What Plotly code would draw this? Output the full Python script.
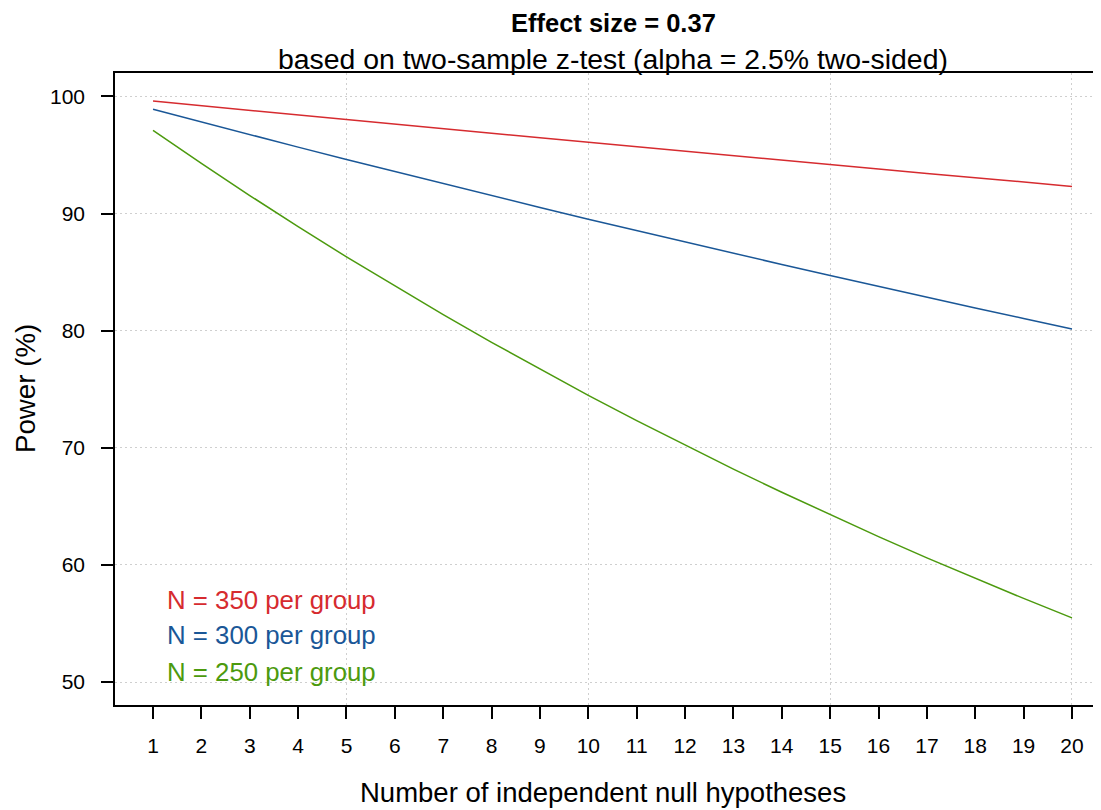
import plotly.graph_objects as go

# ---- data ----
n_hypotheses = list(range(1, 21))
power_n350 = [99.60, 99.20, 98.81, 98.41, 98.02, 97.63, 97.24, 96.85, 96.47, 96.08,
              95.70, 95.32, 94.94, 94.56, 94.18, 93.80, 93.43, 93.06, 92.69, 92.32]
power_n300 = [98.90, 97.81, 96.74, 95.67, 94.62, 93.58, 92.55, 91.53, 90.52, 89.52,
              88.54, 87.56, 86.60, 85.65, 84.71, 83.77, 82.85, 81.94, 81.04, 80.15]
power_n250 = [97.10, 94.28, 91.54, 88.88, 86.30, 83.80, 81.37, 79.00, 76.71, 74.48,
              72.32, 70.22, 68.18, 66.20, 64.28, 62.42, 60.60, 58.84, 57.14, 55.48]
series_labels = ["N = 350 per group", "N = 300 per group", "N = 250 per group"]
series_colors = ["#d62b2f", "#1a5797", "#4c9a0e"]
y_ticks = [50, 60, 70, 80, 90, 100]
x_grid = [5, 10, 15, 20]

FONT = "Liberation Sans, Arial, sans-serif"
GRID = "#cfcfcf"

fig = go.Figure()
for vals, lab, col in zip([power_n350, power_n300, power_n250], series_labels, series_colors):
    fig.add_trace(go.Scatter(x=n_hypotheses, y=vals, mode="lines", name=lab,
                             line=dict(color=col, width=1.5), showlegend=False))

fig.update_layout(
    width=1093, height=802,
    margin=dict(l=107, r=0, t=65, b=105),
    paper_bgcolor="white", plot_bgcolor="white",
    font=dict(family=FONT, color="black"),
)

fig.update_xaxes(
    range=[0.214, 20.6],
    tickmode="array", tickvals=n_hypotheses, ticktext=[str(v) for v in n_hypotheses],
    ticks="outside", ticklen=12, tickwidth=1.5, tickcolor="black",
    tickfont=dict(size=21, family=FONT, color="black"),
    ticklabelstandoff=9,
    showgrid=False, zeroline=False,
    showline=True, linecolor="black", linewidth=1.5, mirror=True,
    minor=dict(tickmode="array", tickvals=x_grid, showgrid=True,
               gridcolor=GRID, griddash="2px,3px", gridwidth=1.2, ticks=""),
)
fig.update_yaxes(
    range=[48.04, 102.0],
    tickmode="array", tickvals=y_ticks, ticktext=[str(v) for v in y_ticks],
    ticks="outside", ticklen=12, tickwidth=1.5, tickcolor="black",
    tickfont=dict(size=21, family=FONT, color="black"),
    ticklabelstandoff=12,
    showgrid=True, gridcolor=GRID, griddash="2px,3px", gridwidth=1.2,
    zeroline=False,
    showline=True, linecolor="black", linewidth=1.5, mirror=False,
)

annotations = [
    dict(text="<b>Effect size = 0.37</b>", xref="paper", yref="paper",
         x=0.5055, y=1, yshift=50, xanchor="center", yanchor="middle", showarrow=False,
         font=dict(size=25.5, family=FONT, color="black")),
    dict(text="based on two-sample z-test (alpha = 2.5% two-sided)", xref="paper", yref="paper",
         x=0.5055, y=1, yshift=14, xanchor="center", yanchor="middle", showarrow=False,
         font=dict(size=28.4, family=FONT, color="black")),
    dict(text="Number of independent null hypotheses", xref="paper", yref="paper",
         x=0.495, y=0, yshift=-87, xanchor="center", yanchor="middle", showarrow=False,
         font=dict(size=27.5, family=FONT, color="black")),
    dict(text="Power (%)", xref="paper", yref="paper", textangle=-90,
         x=0, xshift=-90, y=0.5, xanchor="center", yanchor="middle", showarrow=False,
         font=dict(size=27.7, family=FONT, color="black")),
]
label_y = [0.166, 0.110, 0.053]
for lab, col, yy in zip(series_labels, series_colors, label_y):
    annotations.append(dict(text=lab, xref="paper", yref="paper", x=0.0507, y=yy,
                            xanchor="left", yanchor="middle", showarrow=False,
                            font=dict(size=25.8, family=FONT, color=col)))
fig.update_layout(annotations=annotations)

fig.write_html("out.html")
